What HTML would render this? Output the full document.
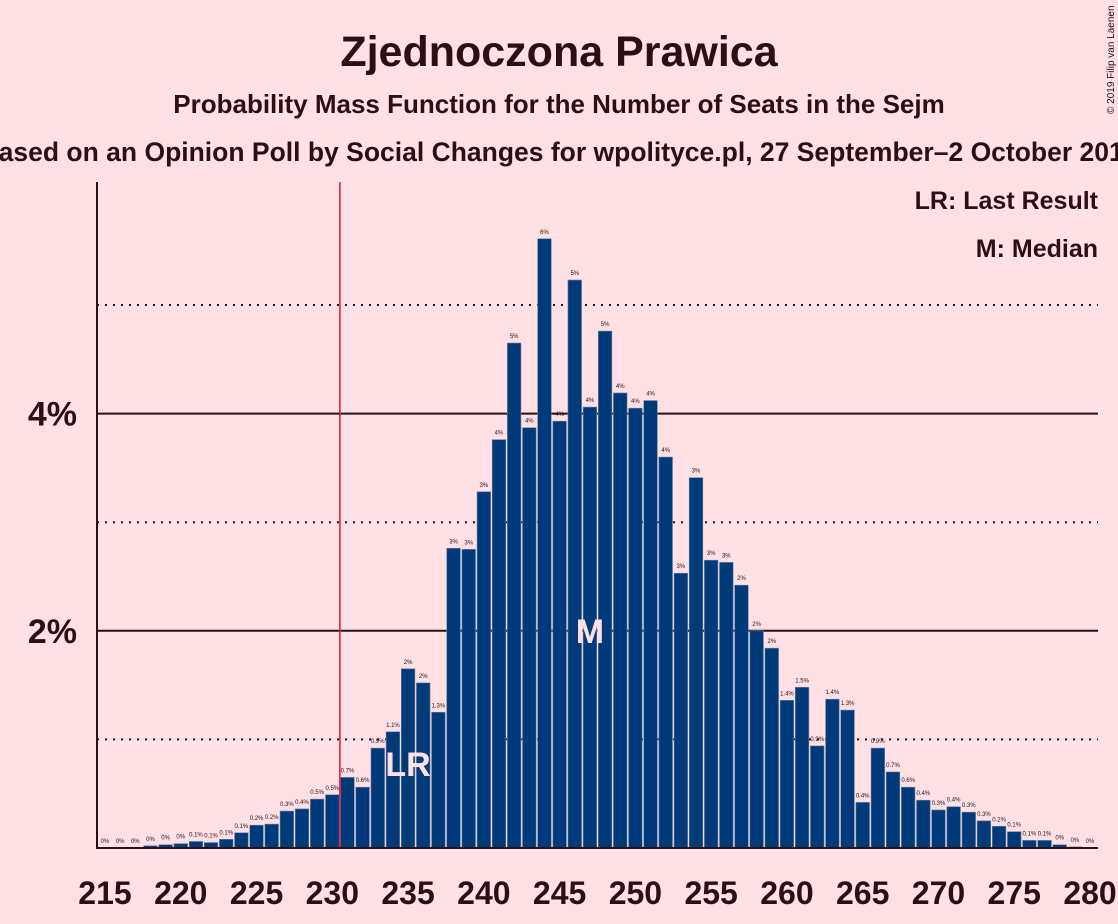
<!DOCTYPE html>
<html><head><meta charset="utf-8"><style>
body{margin:0;background:#ffe0e4;}
svg{display:block;font-family:"Liberation Sans",sans-serif;}
</style></head><body>
<svg id="chart" width="1118" height="924">
<rect width="1118" height="924" fill="#ffe0e4"/>
<text x="559" y="66" text-anchor="middle" font-size="43" font-weight="bold" fill="#2a0f14">Zjednoczona Prawica</text>
<text x="559" y="113" text-anchor="middle" font-size="26" font-weight="bold" fill="#2a0f14">Probability Mass Function for the Number of Seats in the Sejm</text>
<text x="559" y="161" text-anchor="middle" font-size="26.5" font-weight="bold" fill="#2a0f14">Based on an Opinion Poll by Social Changes for wpolityce.pl, 27 September–2 October 2019</text>
<text x="1114" y="114" font-size="10" fill="#2a0f14" transform="rotate(-90 1114 114)">© 2019 Filip van Laenen</text>
<text x="1098" y="209" text-anchor="end" font-size="25" font-weight="bold" fill="#2a0f14">LR: Last Result</text>
<text x="1098" y="257" text-anchor="end" font-size="25" font-weight="bold" fill="#2a0f14">M: Median</text>
<g id="grid"></g>
<g id="bars"></g>
<g id="axes"></g>
</svg>
<script>
const seats = [];
for (let s = 215; s <= 280; s++) seats.push(s);
const probs = [0,0,0,0.02,0.03,0.04,0.06,0.05,0.08,0.14,0.21,0.22,0.34,0.36,0.45,0.49,0.65,0.56,0.92,1.07,1.65,1.52,1.25,2.76,2.75,3.28,3.76,4.65,3.87,5.61,3.93,5.23,4.06,4.76,4.19,4.05,4.12,3.6,2.53,3.41,2.65,2.63,2.42,2.0,1.84,1.36,1.48,0.94,1.37,1.27,0.42,0.92,0.70,0.56,0.44,0.35,0.38,0.33,0.25,0.2,0.15,0.07,0.07,0.03,0.01,0];
const xTicks = [215,220,225,230,235,240,245,250,255,260,265,270,275,280];
const yTicks = [2,4];
const yMinor = [1,3,5];
const lastResult = 235;
const median = 247;

const NS = "http://www.w3.org/2000/svg";
const x = s => 105 + (s - 215) * 15.154;
const y = v => 848 - v * 108.6;
function mk(tag, attrs, parent, txt) {
  const e = document.createElementNS(NS, tag);
  for (const k in attrs) e.setAttribute(k, attrs[k]);
  if (txt !== undefined) e.textContent = txt;
  parent.appendChild(e);
  return e;
}
const grid = document.getElementById('grid'), bars = document.getElementById('bars'), axes = document.getElementById('axes');
yMinor.forEach(v => {
  const l = mk('line', {x1: 97, x2: 1098, y1: y(v), y2: y(v), stroke: '#2a0f14', 'stroke-width': 2, 'stroke-dasharray': '2,6'}, grid);
  
  
});
yTicks.forEach(v => {
  const l = mk('line', {x1: 97, x2: 1098, y1: y(v), y2: y(v), stroke: '#2a0f14', 'stroke-width': 2}, grid);
  
  
  const t = mk('text', {x: 77, y: y(v) + 12, 'text-anchor': 'end', 'font-size': 34, 'font-weight': 'bold', fill: '#2a0f14'}, axes, v + '%');
  
  
});
seats.forEach((s, i) => {
  const v = probs[i];
  const r = mk('rect', {x: x(s) - 6.8, y: y(v), width: 13.6, height: 848 - y(v), fill: '#003a78', stroke: '#6a7fa8', 'stroke-width': 0.6}, bars);
  
  
  const lab = v < 0.05 ? '0%' : (v < 1.5 ? v.toFixed(1) + '%' : Math.round(v) + '%');
  const t = mk('text', {x: x(s), y: y(v) - 5, 'text-anchor': 'middle', 'font-size': 6, fill: '#2a0f14'}, bars, lab);
  
  
});
const rl = mk('line', {x1: (x(230) + x(231)) / 2, x2: (x(230) + x(231)) / 2, y1: 182, y2: 848, stroke: '#e0143c', 'stroke-width': 1.5}, axes);


const lr = mk('text', {x: x(lastResult), y: 776, 'text-anchor': 'middle', 'font-size': 34, 'font-weight': 'bold', fill: '#ffe0e4'}, axes, 'LR');


const md = mk('text', {x: x(median), y: 643, 'text-anchor': 'middle', 'font-size': 34, 'font-weight': 'bold', fill: '#ffe0e4'}, axes, 'M');


const ya = mk('line', {x1: 97, x2: 97, y1: 182, y2: 849, stroke: '#2a0f14', 'stroke-width': 2}, axes);


const xa = mk('line', {x1: 96, x2: 1098, y1: 848, y2: 848, stroke: '#2a0f14', 'stroke-width': 2}, axes);


xTicks.forEach(s => {
  const t = mk('text', {x: x(s), y: 904, 'text-anchor': 'middle', 'font-size': 32, 'font-weight': 'bold', fill: '#2a0f14'}, axes, String(s));
  
  
});
</script>
</body></html>
